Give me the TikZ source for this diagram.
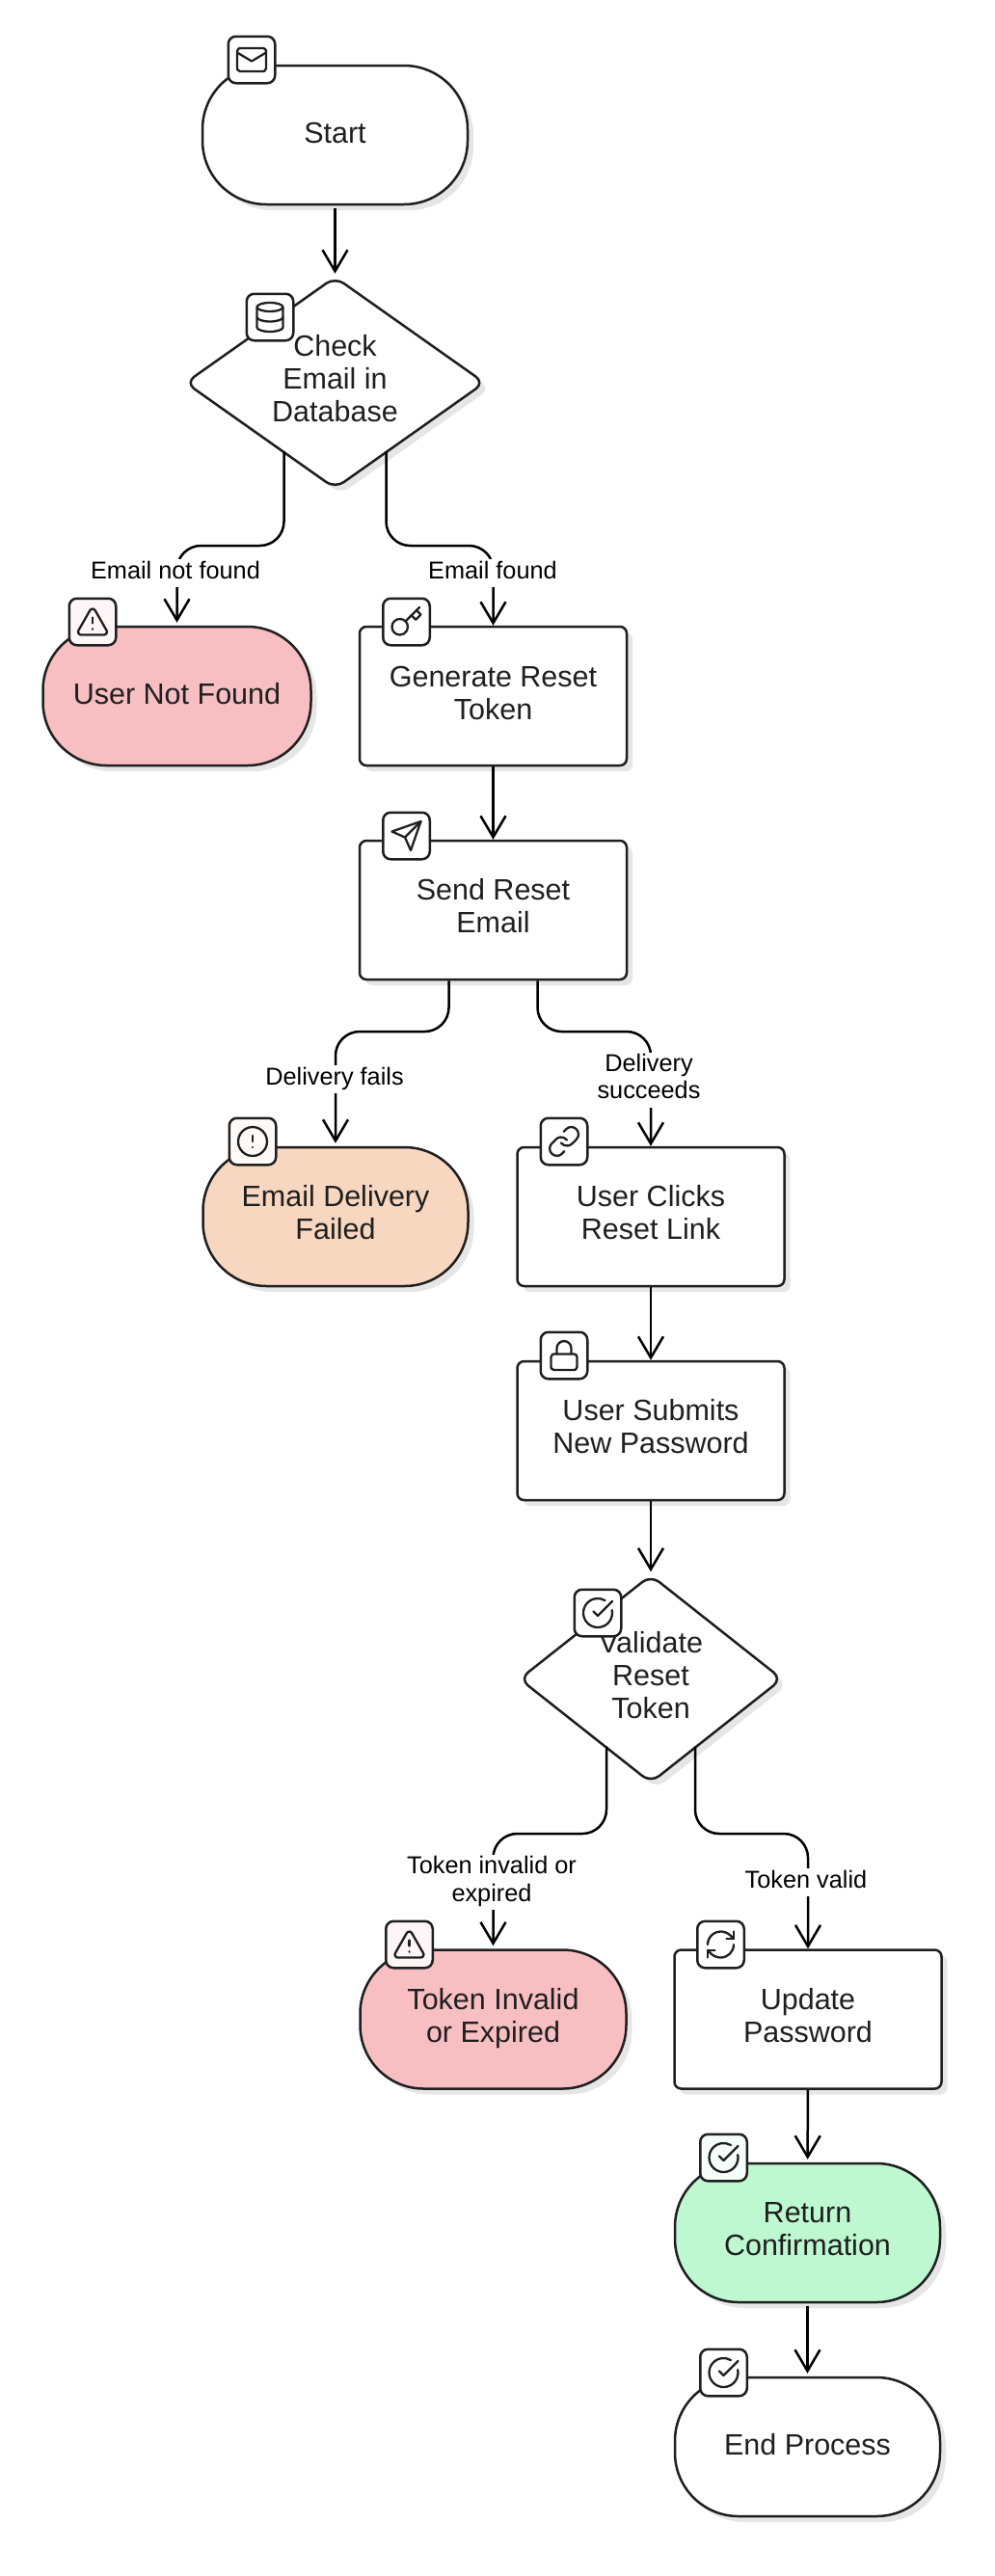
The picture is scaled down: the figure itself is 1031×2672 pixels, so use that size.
\documentclass[tikz,border=0pt]{standalone}
\usepackage{fontspec}
\setmainfont{Liberation Sans}
\usetikzlibrary{arrows.meta,shapes.geometric,shadows,svg.path,calc}
\definecolor{ink}{HTML}{1F1F1F}
\definecolor{shade}{HTML}{E6E6E6}
\definecolor{pinkbg}{HTML}{F8BFC3}
\definecolor{peachbg}{HTML}{F8D7C1}
\definecolor{greenbg}{HTML}{BEF8D0}
\definecolor{pinktint}{HTML}{FEF5F6}
\definecolor{peachtint}{HTML}{FEFAF7}
\definecolor{greentint}{HTML}{F5FEF9}
\newcommand\nt[1]{\begin{tabular}{@{}c@{}}#1\end{tabular}}
\newcommand\lowered{\rule{0pt}{27.5pt}}
\newcommand\nodefont{\fontsize{30.5}{34}\selectfont}
\newcommand\labelfont{\fontsize{25.3}{28.5}\selectfont}
\tikzset{
  softshadow/.style={general shadow={shadow xshift=6pt,shadow yshift=-6pt,fill=shade}},
  nodebase/.style={draw=ink,line width=2.5pt,text=ink,font=\nodefont,inner sep=0pt,minimum height=144pt,fill=white,softshadow},
  pill/.style={nodebase,minimum width=275pt,rounded corners=66pt},
  proc/.style={nodebase,minimum width=277pt,rounded corners=7pt},
  decision/.style={draw=ink,line width=2.5pt,text=ink,font=\nodefont,inner sep=0pt,fill=white,softshadow,diamond,rounded corners=11pt},
  iconbox/.style={draw=ink,line width=2.5pt,rounded corners=8pt,minimum size=48.5pt,inner sep=0pt,fill=white},
  iconline/.style={draw=ink,line width=2.3pt,line cap=round,line join=round},
  edge/.style={draw=black,line width=2.5pt,rounded corners=25pt,-{Straight Barb[length=22pt,width=26pt]}},
  lbl/.style={font=\labelfont,text=black,fill=white,inner sep=0pt},
}
\newcommand\placeicon[2]{\begin{scope}[shift={(#1.center)},scale=1.5,yscale=-1,shift={(-12pt,-12pt)}]#2\end{scope}}
\newcommand\icomail{\path[iconline] svg {M 4 4 h 16 a 2 2 0 0 1 2 2 v 12 a 2 2 0 0 1 -2 2 h -16 a 2 2 0 0 1 -2 -2 v -12 a 2 2 0 0 1 2 -2 z};\path[iconline] svg {M 22 7 L 12 13 L 2 7};}
\newcommand\icodb{\path[iconline] svg {M 3 5 a 9 3 0 0 1 9 -3 a 9 3 0 0 1 9 3 a 9 3 0 0 1 -9 3 a 9 3 0 0 1 -9 -3 z};\path[iconline] svg {M 3 5 V 19 A 9 3 0 0 0 21 19 V 5};\path[iconline] svg {M 3 12 A 9 3 0 0 0 21 12};}
\newcommand\icowarn{\path[iconline] svg {M 21.73 18 l -8 -14 a 2 2 0 0 0 -3.48 0 l -8 14 A 2 2 0 0 0 4 21 h 16 a 2 2 0 0 0 1.73 -3 z};\path[iconline] svg {M 12 9 v 4};\path[iconline] svg {M 12 17 h 0.01};}
\newcommand\icokey{\path[iconline] svg {M 2 15.5 a 5.5 5.5 0 0 1 5.5 -5.5 a 5.5 5.5 0 0 1 5.5 5.5 a 5.5 5.5 0 0 1 -5.5 5.5 a 5.5 5.5 0 0 1 -5.5 -5.5 z};\path[iconline] svg {M 21 2 L 11.4 11.6};\path[iconline] svg {M 15.5 7.5 l 3 3 L 22 7 l -3 -3};}
\newcommand\icosend{\path[iconline] svg {M 22 2 l -7 20 l -4 -9 l -9 -4 z};\path[iconline] svg {M 22 2 L 11 13};}
\newcommand\icoalert{\path[iconline] svg {M 2 12 a 10 10 0 0 1 10 -10 a 10 10 0 0 1 10 10 a 10 10 0 0 1 -10 10 a 10 10 0 0 1 -10 -10 z};\path[iconline] svg {M 12 8 v 4};\path[iconline] svg {M 12 16 h 0.01};}
\newcommand\icolink{\path[iconline] svg {M 10 13 a 5 5 0 0 0 7.54 0.54 l 3 -3 a 5 5 0 0 0 -7.07 -7.07 l -1.72 1.71};\path[iconline] svg {M 14 11 a 5 5 0 0 0 -7.54 -0.54 l -3 3 a 5 5 0 0 0 7.07 7.07 l 1.71 -1.71};}
\newcommand\icolock{\path[iconline] svg {M 5 11 h 14 a 2 2 0 0 1 2 2 v 7 a 2 2 0 0 1 -2 2 h -14 a 2 2 0 0 1 -2 -2 v -7 a 2 2 0 0 1 2 -2 z};\path[iconline] svg {M 7 11 V 7 a 5 5 0 0 1 10 0 v 4};}
\newcommand\icocheck{\path[iconline] svg {M 21.801 10 A 10 10 0 1 1 17 3.335};\path[iconline] svg {M 9 11 l 3 3 L 22 4};}
\newcommand\icorefresh{\path[iconline] svg {M 3 12 a 9 9 0 0 1 9 -9 a 9.75 9.75 0 0 1 6.74 2.74 L 21 8};\path[iconline] svg {M 21 3 v 5 h -5};\path[iconline] svg {M 21 12 a 9 9 0 0 1 -9 9 a 9.75 9.75 0 0 1 -6.74 -2.74 L 3 16};\path[iconline] svg {M 8 16 H 3 v 5};}
\begin{document}
\begin{tikzpicture}[x=1pt,y=-1pt]
\fill[white] (0,0) rectangle (1031,2672);
\useasboundingbox (0,0) rectangle (1031,2672);
% nodes
\node[pill] (start) at (347.5,140) {\nt{\lowered Start}};
\node[decision,aspect=1.41,minimum width=311pt,minimum height=220pt] (d1) at (347.5,397) {\nt{Check\\Email in\\Database}};
\node[pill,fill=pinkbg,minimum width=278pt] (unf) at (183.5,722) {\nt{\lowered User Not Found}};
\node[proc] (grt) at (511.5,722) {\nt{\rule{0pt}{26pt}Generate Reset\\Token}};
\node[proc] (send) at (511.5,944) {\nt{Send Reset\\Email}};
\node[pill,fill=peachbg] (edf) at (348,1262) {\nt{Email Delivery\\Failed}};
\node[proc] (ucl) at (675,1262) {\nt{User Clicks\\Reset Link}};
\node[proc] (usp) at (675,1484) {\nt{User Submits\\New Password}};
\node[decision,aspect=1.26,minimum width=273pt,minimum height=216pt] (d2) at (675,1741.5) {\nt{Validate\\Reset\\Token}};
\node[pill,fill=pinkbg,minimum width=276pt] (tie) at (511.5,2094.5) {\nt{Token Invalid\\or Expired}};
\node[proc] (upd) at (838,2094.5) {\nt{Update\\Password}};
\node[pill,fill=greenbg] (ret) at (837.5,2316) {\nt{Return\\Confirmation}};
\node[pill] (endp) at (837.5,2538) {\nt{\lowered End Process}};
% edge helpers
\coordinate (d1L) at ($(d1.center)+(-53,71)$);
\coordinate (d1R) at ($(d1.center)+(53,71)$);
\coordinate (m1) at (0,566);
\coordinate (sendL) at ($(send.south)+(-46,0)$);
\coordinate (sendR) at ($(send.south)+(46,0)$);
\coordinate (m2) at (0,1070);
\coordinate (d2L) at ($(d2.center)+(-46,70)$);
\coordinate (d2R) at ($(d2.center)+(46,70)$);
\coordinate (m3) at (0,1902);
% edges
\draw[edge,shorten <=3pt,shorten >=2pt] (start) -- (d1.north);
\draw[edge,shorten >=3pt] (d1L) -- (d1L |- m1) -- (unf.north |- m1) -- (unf.north);
\draw[edge] (d1R) -- (d1R |- m1) -- (grt.north |- m1) -- (grt.north);
\draw[edge] (grt) -- (send);
\draw[edge,shorten >=3pt] (sendL) -- (sendL |- m2) -- (edf.north |- m2) -- (edf.north);
\draw[edge] (sendR) -- (sendR |- m2) -- (ucl.north |- m2) -- (ucl.north);
\draw[edge] (ucl) -- (usp);
\draw[edge,shorten >=2pt] (usp) -- (d2.north);
\draw[edge,shorten >=3pt] (d2L) -- (d2L |- m3) -- (tie.north |- m3) -- (tie.north);
\draw[edge] (d2R) -- (d2R |- m3) -- (upd.north |- m3) -- (upd.north);
\draw[edge,shorten >=3pt] (upd) -- (ret);
\draw[edge,shorten <=3pt,shorten >=3pt] (ret) -- (endp);
% edge labels
\node[lbl] (l1) at (182,594.5) {\nt{Email not found}};
\node[lbl] (l2) at (511,594.5) {\nt{Email found}};
\node[lbl] (l3) at (347,1119.5) {\nt{Delivery fails}};
\node[lbl] (l4) at (673,1120) {\nt{Delivery\\succeeds}};
\node[lbl] (l5) at (510,1952.5) {\nt{Token invalid or\\expired}};
\node[lbl] (l6) at (836,1952.5) {\nt{Token valid}};
% icons
\node[iconbox] (i1) at (261,62) {};
\node[iconbox] (i2) at (280,329) {};
\node[iconbox,fill=pinktint] (i3) at (96,645) {};
\node[iconbox] (i4) at (421.5,645) {};
\node[iconbox] (i5) at (421.5,867) {};
\node[iconbox,fill=peachtint] (i6) at (262,1184) {};
\node[iconbox] (i7) at (585,1184) {};
\node[iconbox] (i8) at (585,1406) {};
\node[iconbox] (i9) at (620,1673) {};
\node[iconbox,fill=pinktint] (i10) at (424.5,2017) {};
\node[iconbox] (i11) at (747.5,2017) {};
\node[iconbox,fill=greentint] (i12) at (750.5,2238) {};
\node[iconbox] (i13) at (750.5,2461) {};
\placeicon{i1}{\icomail}
\placeicon{i2}{\icodb}
\placeicon{i3}{\icowarn}
\placeicon{i4}{\icokey}
\placeicon{i5}{\icosend}
\placeicon{i6}{\icoalert}
\placeicon{i7}{\icolink}
\placeicon{i8}{\icolock}
\placeicon{i9}{\icocheck}
\placeicon{i10}{\icowarn}
\placeicon{i11}{\icorefresh}
\placeicon{i12}{\icocheck}
\placeicon{i13}{\icocheck}
\end{tikzpicture}
\end{document}
